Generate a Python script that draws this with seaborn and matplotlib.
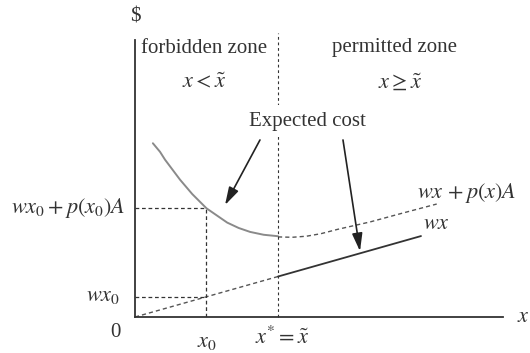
import matplotlib
matplotlib.use("Agg")
import matplotlib.pyplot as plt
import seaborn as sns

# Readings of the diagram (x = care level, y = dollars)
x0 = 1.0                      # chosen care level below the standard
x_std = 2.0                   # legal standard x* = x~
wx0 = 0.283                   # private cost of care at x0
total_at_x0 = 1.524           # wx0 + p(x0)A

# expected total cost wx + p(x)A in the forbidden zone (solid)
cost_forbid_x = [0.25, 0.35, 0.42, 0.63, 0.80, 1.00, 1.29, 1.45, 1.61, 1.80, 2.00]
cost_forbid_y = [2.43, 2.31, 2.20, 1.92, 1.72, 1.52, 1.32, 1.245, 1.19, 1.15, 1.13]

# continuation of wx + p(x)A in the permitted zone (dashed)
cost_permit_x = [2.00, 2.20, 2.40, 2.60, 2.83, 3.29, 3.75, 4.22]
cost_permit_y = [1.12, 1.115, 1.13, 1.165, 1.225, 1.33, 1.455, 1.58]

# cost of care wx: dashed below the standard, solid above it
wx_low_x = [0.0, 2.0]
wx_low_y = [0.0, 0.566]
wx_high_x = [2.0, 4.0]
wx_high_y = [0.566, 1.132]

sns.set_theme(style="white")
plt.rcParams["font.family"] = ["Liberation Serif", "DejaVu Serif"]
plt.rcParams["mathtext.fontset"] = "stix"

ink = "#333333"
fs = 15
fm = 16

fig = plt.figure(figsize=(5.30, 3.53), dpi=100)
fig.patch.set_facecolor("white")
ax = fig.add_axes([135 / 530, 36 / 353, 368 / 530, 277 / 353])
ax.set_xlim(0, 5.147)
ax.set_ylim(0, 3.874)
ax.set_facecolor("white")
for side in ("top", "right"):
    ax.spines[side].set_visible(False)
for side in ("left", "bottom"):
    ax.spines[side].set_color(ink)
    ax.spines[side].set_linewidth(1.3)
ax.set_xticks([])
ax.set_yticks([])
ax.set_xlabel("")
ax.set_ylabel("")

dash = (0, (3, 2.2))

# curves
sns.lineplot(x=cost_forbid_x, y=cost_forbid_y, ax=ax, sort=False, estimator=None,
             color="#8a8a8a", lw=1.4)
sns.lineplot(x=cost_permit_x, y=cost_permit_y, ax=ax, sort=False, estimator=None,
             color="#555555", lw=1.0, linestyle=dash)
sns.lineplot(x=wx_low_x, y=wx_low_y, ax=ax, sort=False, estimator=None,
             color="#555555", lw=1.0, linestyle=dash)
sns.lineplot(x=wx_high_x, y=wx_high_y, ax=ax, sort=False, estimator=None,
             color=ink, lw=1.3)

# guide lines
ax.plot([0, x0], [total_at_x0, total_at_x0], color=ink, lw=0.9, ls=dash)
ax.plot([x0, x0], [0, total_at_x0], color=ink, lw=0.9, ls=dash)
ax.plot([0, x0], [wx0, wx0], color=ink, lw=0.9, ls=dash)
ax.plot([x_std, x_std], [0, 3.97], color=ink, lw=0.8, ls=(0, (2.5, 2.5)), clip_on=False)

# zone headings
ax.text(0.97, 3.76, "forbidden zone", ha="center", va="center", fontsize=fs, color=ink)
ax.text(0.965, 3.27, r"$x < \tilde{x}$", ha="center", va="center", fontsize=fm, color=ink)
ax.text(3.636, 3.776, "permitted zone", ha="center", va="center", fontsize=fs, color=ink)
ax.text(3.706, 3.28, r"$x \geq \tilde{x}$", ha="center", va="center", fontsize=fm, color=ink)

# label with two arrows
ax.text(2.406, 2.741, "Expected cost", ha="center", va="center", fontsize=fs, color=ink,
        bbox=dict(facecolor="white", edgecolor="none", pad=5), zorder=5)
arrow = dict(arrowstyle="-|>,head_length=0.9,head_width=0.26", color="#222222", lw=1.2,
             shrinkA=0, shrinkB=0)
ax.annotate("", xy=(1.259, 1.566), xytext=(1.748, 2.476), arrowprops=arrow)
ax.annotate("", xy=(3.147, 0.92), xytext=(2.909, 2.476), arrowprops=arrow)

# curve labels
ax.text(3.944, 1.734, r"$wx\,+ p(x)A$", ha="left", va="center", fontsize=fm, color=ink)
ax.text(4.03, 1.287, r"$wx$", ha="left", va="center", fontsize=fm, color=ink)

# axis labels
ax.text(-0.13, total_at_x0, r"$wx_0 + p(x_0)A$", ha="right", va="center", fontsize=fm,
        color=ink, clip_on=False)
ax.text(-0.21, wx0, r"$wx_0$", ha="right", va="center", fontsize=fm, color=ink, clip_on=False)
ax.text(-0.28, -0.21, "0", ha="center", va="center", fontsize=fs, color=ink, clip_on=False)
ax.text(x0, -0.35, r"$x_0$", ha="center", va="center", fontsize=fm, color=ink, clip_on=False)
ax.text(2.06, -0.29, r"$x^{*} = \tilde{x}$", ha="center", va="center", fontsize=fm,
        color=ink, clip_on=False)
ax.text(5.425, 0.0, r"$x$", ha="center", va="center", fontsize=fm, color=ink, clip_on=False)
ax.text(0.0, 4.196, r"\$", ha="center", va="center", fontsize=fs, color=ink, clip_on=False)

fig.savefig("out.png", dpi=100, facecolor="white")
